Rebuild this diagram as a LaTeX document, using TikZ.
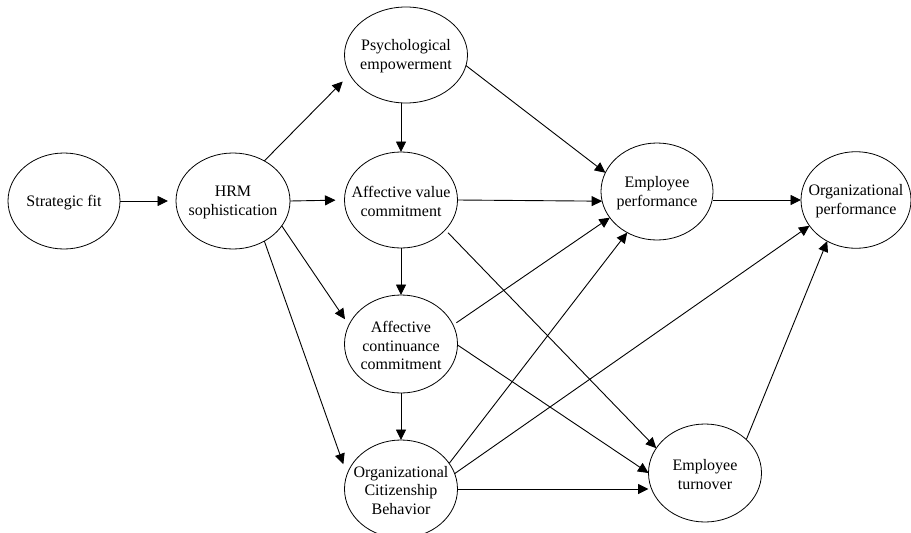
\documentclass[tikz,border=0pt]{standalone}
\usepackage{fontspec}
\setmainfont{Liberation Serif}
\usetikzlibrary{shapes.geometric,arrows.meta}

\tikzset{
  oval/.style={ellipse, draw=black, line width=0.8pt, inner sep=0pt, outer sep=0pt},
  lbl/.style={align=center, inner sep=0pt, yshift=-1.5pt,
    font=\fontsize{16}{18.8}\selectfont},
  arr/.style={draw=black, line width=0.9pt, -{Triangle[length=10.5pt,width=10pt]}}
}

\begin{document}
\begin{tikzpicture}[x=1pt,y=-1pt]
  \fill[white] (0,0) rectangle (911,533);
  \useasboundingbox (0,0) rectangle (911,533);

  % constructs
  \node[oval, minimum width=112pt, minimum height=96pt]   (SF)  at (64,201)    {};
  \node[oval, minimum width=114pt, minimum height=96pt]   (HRM) at (233,201)   {};
  \node[oval, minimum width=123pt, minimum height=96pt]   (PE)  at (406,55)    {};
  \node[oval, minimum width=113pt, minimum height=96pt]   (AVC) at (401,200)   {};
  \node[oval, minimum width=113pt, minimum height=98pt]   (ACC) at (401,344)   {};
  \node[oval, minimum width=113pt, minimum height=98pt]   (OCB) at (401,489)   {};
  \node[oval, minimum width=112pt, minimum height=97pt]   (EP)  at (657,191.5) {};
  \node[oval, minimum width=110pt, minimum height=96.6pt] (OP)  at (856,200)   {};
  \node[oval, minimum width=113pt, minimum height=98pt]   (ET)  at (705,473)   {};

  % construct labels
  \node[lbl] (SFt)  at (SF)  {Strategic fit};
  \node[lbl] (HRMt) at (HRM) {HRM\\sophistication};
  \node[lbl] (PEt)  at (PE)  {Psychological\\empowerment};
  \node[lbl] (AVCt) at (AVC) {Affective value\\commitment};
  \node[lbl] (ACCt) at (ACC) {Affective\\continuance\\commitment};
  \node[lbl] (OCBt) at (OCB) {Organizational\\Citizenship\\Behavior};
  \node[lbl] (EPt)  at (EP)  {Employee\\performance};
  \node[lbl] (OPt)  at (OP)  {Organizational\\performance};
  \node[lbl] (ETt)  at (ET)  {Employee\\turnover};

  % paths
  \draw[arr, shorten >=8pt]  (SF.east) -- (HRM.west);
  \draw[arr, shorten >=10pt] (HRM.52)  -- (PE.199);
  \draw[arr, shorten >=9pt]  (HRM.east) -- (AVC.west);
  \draw[arr, shorten >=7pt]  (HRM.333) -- (ACC.160);
  \draw[arr, shorten >=11pt] (HRM.308) -- (OCB.165);

  \draw[arr] (PE.south -| AVC.north) -- (AVC.north);
  \draw[arr] (AVC.south) -- (ACC.north);
  \draw[arr] (ACC.south) -- (OCB.north);

  \draw[arr] (PE.350)  -- (EP.160);
  \draw[arr] (AVC.east) -- (EP.190);
  \draw[arr, shorten <=4pt] (AVC.326) -- (ET.153);
  \draw[arr, shorten <=4pt] (ACC.20)  -- (EP.209);
  \draw[arr] (ACC.359) -- (ET.west);
  \draw[arr] (OCB.28)  -- (EP.234);
  \draw[arr] (OCB.16)  -- (OP.209);
  \draw[arr] (OCB.east) -- (OCB.east -| ET.west);

  \draw[arr] (OP.west -| EP.east) -- (OP.west);
  \draw[arr] (ET.39) -- (OP.235);
\end{tikzpicture}
\end{document}
